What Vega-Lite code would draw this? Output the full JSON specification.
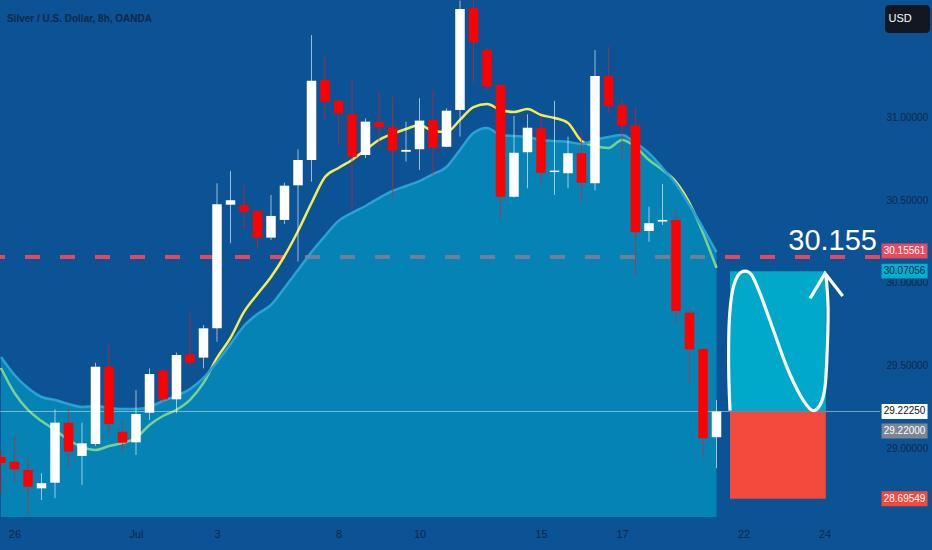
{
  "$schema": "https://vega.github.io/schema/vega-lite/v6.json",
  "description": "Silver / U.S. Dollar 8h candles with moving average, band and long-position box",
  "width": 880,
  "height": 517,
  "autosize": {"type": "none"},
  "padding": {"left": 0, "top": 0, "right": 52, "bottom": 33},
  "background": "#0b5395",
  "config": {
    "view": {"stroke": null},
    "font": "Liberation Sans",
    "style": {"guide-label": {"fill": "#10264a"}},
    "axis": {
      "labelColor": "#10264a",
      "labelOpacity": 1,
      "labelFont": "Liberation Sans",
      "grid": false,
      "ticks": false,
      "domain": false
    }
  },
  "datasets": {
    "candles": [
      {"i": 0, "o": 28.948, "h": 28.99, "l": 28.73, "c": 28.911, "ma": 29.485, "band": 29.552},
      {"i": 1, "o": 28.919, "h": 29.08, "l": 28.789, "c": 28.873, "ma": 29.334, "band": 29.443},
      {"i": 2, "o": 28.869, "h": 28.96, "l": 28.597, "c": 28.768, "ma": 29.232, "band": 29.364},
      {"i": 3, "o": 28.758, "h": 28.849, "l": 28.688, "c": 28.789, "ma": 29.165, "band": 29.31},
      {"i": 4, "o": 28.792, "h": 29.236, "l": 28.698, "c": 29.155, "ma": 29.111, "band": 29.292},
      {"i": 5, "o": 29.155, "h": 29.242, "l": 28.879, "c": 28.98, "ma": 29.05, "band": 29.268},
      {"i": 6, "o": 28.954, "h": 29.155, "l": 28.778, "c": 29.03, "ma": 29.008, "band": 29.25},
      {"i": 7, "o": 29.026, "h": 29.517, "l": 29.014, "c": 29.493, "ma": 28.99, "band": 29.256},
      {"i": 8, "o": 29.493, "h": 29.624, "l": 29.08, "c": 29.147, "ma": 29.014, "band": 29.244},
      {"i": 9, "o": 29.1, "h": 29.171, "l": 28.98, "c": 29.034, "ma": 29.032, "band": 29.238},
      {"i": 10, "o": 29.036, "h": 29.352, "l": 28.96, "c": 29.207, "ma": 29.062, "band": 29.238},
      {"i": 11, "o": 29.215, "h": 29.483, "l": 29.171, "c": 29.449, "ma": 29.141, "band": 29.25},
      {"i": 12, "o": 29.469, "h": 29.485, "l": 29.274, "c": 29.296, "ma": 29.195, "band": 29.286},
      {"i": 13, "o": 29.296, "h": 29.578, "l": 29.212, "c": 29.564, "ma": 29.232, "band": 29.316},
      {"i": 14, "o": 29.568, "h": 29.825, "l": 29.493, "c": 29.517, "ma": 29.292, "band": 29.358},
      {"i": 15, "o": 29.548, "h": 29.745, "l": 29.483, "c": 29.725, "ma": 29.395, "band": 29.425},
      {"i": 16, "o": 29.725, "h": 30.601, "l": 29.644, "c": 30.474, "ma": 29.546, "band": 29.522},
      {"i": 17, "o": 30.472, "h": 30.676, "l": 30.239, "c": 30.499, "ma": 29.667, "band": 29.63},
      {"i": 18, "o": 30.47, "h": 30.591, "l": 30.319, "c": 30.43, "ma": 29.824, "band": 29.739},
      {"i": 19, "o": 30.433, "h": 30.44, "l": 30.21, "c": 30.273, "ma": 29.932, "band": 29.812},
      {"i": 20, "o": 30.273, "h": 30.531, "l": 30.259, "c": 30.404, "ma": 30.035, "band": 29.866},
      {"i": 21, "o": 30.38, "h": 30.605, "l": 30.355, "c": 30.587, "ma": 30.162, "band": 29.969},
      {"i": 22, "o": 30.589, "h": 30.807, "l": 30.128, "c": 30.742, "ma": 30.313, "band": 30.077},
      {"i": 23, "o": 30.742, "h": 31.497, "l": 30.611, "c": 31.221, "ma": 30.482, "band": 30.186},
      {"i": 24, "o": 31.225, "h": 31.37, "l": 30.984, "c": 31.094, "ma": 30.639, "band": 30.283},
      {"i": 25, "o": 31.1, "h": 31.104, "l": 30.833, "c": 31.024, "ma": 30.694, "band": 30.374},
      {"i": 26, "o": 31.018, "h": 31.226, "l": 30.44, "c": 30.762, "ma": 30.742, "band": 30.422},
      {"i": 27, "o": 30.772, "h": 30.994, "l": 30.754, "c": 30.974, "ma": 30.803, "band": 30.464},
      {"i": 28, "o": 30.972, "h": 31.155, "l": 30.822, "c": 30.94, "ma": 30.863, "band": 30.512},
      {"i": 29, "o": 30.94, "h": 31.125, "l": 30.52, "c": 30.798, "ma": 30.899, "band": 30.555},
      {"i": 30, "o": 30.792, "h": 30.974, "l": 30.732, "c": 30.803, "ma": 30.929, "band": 30.585},
      {"i": 31, "o": 30.807, "h": 31.115, "l": 30.682, "c": 30.98, "ma": 30.954, "band": 30.615},
      {"i": 32, "o": 30.984, "h": 31.165, "l": 30.651, "c": 30.816, "ma": 30.917, "band": 30.657},
      {"i": 33, "o": 30.822, "h": 31.054, "l": 30.82, "c": 31.04, "ma": 30.911, "band": 30.7},
      {"i": 34, "o": 31.044, "h": 31.705, "l": 30.883, "c": 31.654, "ma": 30.984, "band": 30.803},
      {"i": 35, "o": 31.659, "h": 31.705, "l": 31.206, "c": 31.453, "ma": 31.062, "band": 30.905},
      {"i": 36, "o": 31.407, "h": 31.419, "l": 31.165, "c": 31.185, "ma": 31.08, "band": 30.935},
      {"i": 37, "o": 31.195, "h": 31.2, "l": 30.39, "c": 30.52, "ma": 31.044, "band": 30.893},
      {"i": 38, "o": 30.52, "h": 31.008, "l": 30.515, "c": 30.786, "ma": 31.032, "band": 30.887},
      {"i": 39, "o": 30.789, "h": 31.018, "l": 30.571, "c": 30.937, "ma": 31.05, "band": 30.881},
      {"i": 40, "o": 30.934, "h": 31.008, "l": 30.601, "c": 30.665, "ma": 31.014, "band": 30.863},
      {"i": 41, "o": 30.669, "h": 31.1, "l": 30.531, "c": 30.678, "ma": 30.996, "band": 30.857},
      {"i": 42, "o": 30.662, "h": 30.883, "l": 30.571, "c": 30.783, "ma": 30.966, "band": 30.851},
      {"i": 43, "o": 30.783, "h": 30.913, "l": 30.49, "c": 30.605, "ma": 30.857, "band": 30.839},
      {"i": 44, "o": 30.601, "h": 31.407, "l": 30.557, "c": 31.25, "ma": 30.827, "band": 30.863},
      {"i": 45, "o": 31.25, "h": 31.427, "l": 31.024, "c": 31.068, "ma": 30.815, "band": 30.881},
      {"i": 46, "o": 31.073, "h": 31.115, "l": 30.742, "c": 30.949, "ma": 30.863, "band": 30.893},
      {"i": 47, "o": 30.952, "h": 31.061, "l": 30.047, "c": 30.305, "ma": 30.821, "band": 30.845},
      {"i": 48, "o": 30.313, "h": 30.46, "l": 30.248, "c": 30.36, "ma": 30.742, "band": 30.784},
      {"i": 49, "o": 30.37, "h": 30.597, "l": 30.349, "c": 30.38, "ma": 30.682, "band": 30.694},
      {"i": 50, "o": 30.38, "h": 30.44, "l": 29.755, "c": 29.83, "ma": 30.609, "band": 30.597},
      {"i": 51, "o": 29.819, "h": 29.846, "l": 29.393, "c": 29.598, "ma": 30.482, "band": 30.47},
      {"i": 52, "o": 29.6, "h": 29.605, "l": 28.949, "c": 29.061, "ma": 30.301, "band": 30.331},
      {"i": 53, "o": 29.067, "h": 29.292, "l": 28.879, "c": 29.2225, "ma": 30.09, "band": 30.186}
    ],
    "wave": [
      {"k": 0, "i": 54.0, "p": 29.228},
      {"k": 1, "i": 53.9, "p": 29.493},
      {"k": 2, "i": 53.95, "p": 29.775},
      {"k": 3, "i": 54.2, "p": 29.957},
      {"k": 4, "i": 54.61, "p": 30.047},
      {"k": 5, "i": 55.11, "p": 30.071},
      {"k": 6, "i": 55.61, "p": 30.047},
      {"k": 7, "i": 56.22, "p": 29.937},
      {"k": 8, "i": 57.21, "p": 29.715},
      {"k": 9, "i": 58.2, "p": 29.493},
      {"k": 10, "i": 59.19, "p": 29.322},
      {"k": 11, "i": 60.05, "p": 29.231},
      {"k": 12, "i": 60.67, "p": 29.262},
      {"k": 13, "i": 61.04, "p": 29.372},
      {"k": 14, "i": 61.21, "p": 29.614},
      {"k": 15, "i": 61.26, "p": 29.856},
      {"k": 16, "i": 61.11, "p": 30.047}
    ],
    "arrow": [
      {"k": 0, "i": 59.93, "p": 29.906},
      {"k": 1, "i": 61.04, "p": 30.057},
      {"k": 2, "i": 62.35, "p": 29.92}
    ],
    "zones": [
      {"zone": "target", "i": 54, "i2": 61.1, "top": 30.07056, "bottom": 29.2225},
      {"zone": "stop", "i": 54, "i2": 61.1, "top": 29.2225, "bottom": 28.69549}
    ]
  },
  "layer": [
    {
      "data": {"values": [{"p": 30.15561}]},
      "mark": {"type": "rule", "color": "#e5485c", "strokeWidth": 4, "strokeDash": [15, 20]},
      "encoding": {"y": {"field": "p", "type": "quantitative"}}
    },
    {
      "data": {"name": "candles"},
      "mark": {"type": "line", "color": "#f4ec50", "strokeWidth": 2.5, "interpolate": "monotone"},
      "encoding": {
        "x": {"field": "i", "type": "quantitative"},
        "y": {"field": "ma", "type": "quantitative"}
      }
    },
    {
      "data": {"name": "candles"},
      "mark": {"type": "area", "color": "#00b3d5", "fillOpacity": 0.5, "interpolate": "monotone"},
      "encoding": {
        "x": {"field": "i", "type": "quantitative"},
        "y": {"field": "band", "type": "quantitative"},
        "y2": {"datum": 28.5849}
      }
    },
    {
      "data": {"name": "candles"},
      "mark": {"type": "line", "color": "#2aa2d4", "strokeWidth": 2.5, "interpolate": "monotone"},
      "encoding": {
        "x": {"field": "i", "type": "quantitative"},
        "y": {"field": "band", "type": "quantitative"}
      }
    },
    {
      "data": {"values": [{"p": 29.2225}]},
      "mark": {"type": "rule", "color": "#ffffff", "strokeWidth": 1, "opacity": 0.45},
      "encoding": {"y": {"field": "p", "type": "quantitative"}}
    },
    {
      "data": {"name": "zones"},
      "mark": {"type": "rect"},
      "encoding": {
        "x": {"field": "i", "type": "quantitative"},
        "x2": {"field": "i2"},
        "y": {"field": "top", "type": "quantitative"},
        "y2": {"field": "bottom"},
        "color": {
          "field": "zone",
          "type": "nominal",
          "scale": {"domain": ["target", "stop"], "range": ["#00a9ca", "#f24a3c"]},
          "legend": null
        }
      }
    },
    {
      "data": {"name": "wave"},
      "mark": {"type": "line", "color": "#ffffff", "strokeWidth": 3.2, "interpolate": "cardinal"},
      "encoding": {
        "x": {"field": "i", "type": "quantitative"},
        "y": {"field": "p", "type": "quantitative"},
        "order": {"field": "k"}
      }
    },
    {
      "data": {"name": "arrow"},
      "mark": {"type": "line", "color": "#ffffff", "strokeWidth": 3.2},
      "encoding": {
        "x": {"field": "i", "type": "quantitative"},
        "y": {"field": "p", "type": "quantitative"},
        "order": {"field": "k"}
      }
    },
    {
      "data": {"name": "candles"},
      "mark": {"type": "rule", "strokeWidth": 1, "opacity": 0.6},
      "encoding": {
        "x": {"field": "i", "type": "quantitative"},
        "y": {"field": "h", "type": "quantitative"},
        "y2": {"field": "l"},
        "color": {"condition": {"test": "datum.c >= datum.o", "value": "#ffffff"}, "value": "#ff1010"}
      }
    },
    {
      "data": {"name": "candles"},
      "mark": {"type": "bar", "width": 9.5},
      "encoding": {
        "x": {
          "field": "i",
          "type": "quantitative",
          "scale": {"domain": [-0.074, 65.111], "nice": false, "zero": false, "padding": 0},
          "axis": {
            "values": [1, 10, 16, 25, 31, 40, 46, 55, 61],
            "labelExpr": "datum.value == 1 ? '26' : datum.value == 10 ? 'Jul' : datum.value == 16 ? '3' : datum.value == 25 ? '8' : datum.value == 31 ? '10' : datum.value == 40 ? '15' : datum.value == 46 ? '17' : datum.value == 55 ? '22' : '24'",
            "title": null,
            "labelPadding": 11,
            "labelFontSize": 11,
            "labelColor": "#10264a",
            "labelFlush": false,
            "encode": {"labels": {"update": {"fill": {"value": "#10264a"}}}}
          }
        },
        "y": {
          "field": "o",
          "type": "quantitative",
          "scale": {"domain": [28.5849, 31.7088], "nice": false, "zero": false, "padding": 0},
          "axis": {
            "orient": "right",
            "values": [29, 29.5, 30, 30.5, 31],
            "format": ".5f",
            "title": null,
            "labelAlign": "left",
            "labelPadding": 6,
            "labelFontSize": 10,
            "labelColor": "#10264a",
            "zindex": 0,
            "encode": {"labels": {"update": {"fill": {"value": "#10264a"}}}}
          }
        },
        "y2": {"field": "c"},
        "color": {"condition": {"test": "datum.c >= datum.o", "value": "#ffffff"}, "value": "#ff0000"}
      }
    },
    {
      "data": {"values": [{"label": "30.15561", "p": 30.15561}]},
      "layer": [
        {
          "mark": {"type": "point", "shape": "M-1,-0.326H1V0.326H-1Z", "size": 2116, "filled": true, "opacity": 1, "color": "#ea4a5c", "strokeWidth": 0, "yOffset": -6},
          "encoding": {"x": {"datum": 66.93, "type": "quantitative"}, "y": {"field": "p", "type": "quantitative"}}
        },
        {
          "mark": {"type": "text", "color": "#ffffff", "fontSize": 10, "dy": -6},
          "encoding": {"x": {"datum": 66.93, "type": "quantitative"}, "y": {"field": "p", "type": "quantitative"}, "text": {"field": "label"}}
        }
      ]
    },
    {
      "data": {"values": [{"label": "30.07056", "p": 30.07056}]},
      "layer": [
        {
          "mark": {"type": "point", "shape": "M-1,-0.326H1V0.326H-1Z", "size": 2116, "filled": true, "opacity": 1, "color": "#00b0cf", "strokeWidth": 0},
          "encoding": {"x": {"datum": 66.93, "type": "quantitative"}, "y": {"field": "p", "type": "quantitative"}}
        },
        {
          "mark": {"type": "text", "color": "#10243f", "fontSize": 10},
          "encoding": {"x": {"datum": 66.93, "type": "quantitative"}, "y": {"field": "p", "type": "quantitative"}, "text": {"field": "label"}}
        }
      ]
    },
    {
      "data": {"values": [{"label": "29.22250", "p": 29.2225}]},
      "layer": [
        {
          "mark": {"type": "point", "shape": "M-1,-0.326H1V0.326H-1Z", "size": 2116, "filled": true, "opacity": 1, "color": "#ffffff", "strokeWidth": 0},
          "encoding": {"x": {"datum": 66.93, "type": "quantitative"}, "y": {"field": "p", "type": "quantitative"}}
        },
        {
          "mark": {"type": "text", "color": "#111111", "fontSize": 10},
          "encoding": {"x": {"datum": 66.93, "type": "quantitative"}, "y": {"field": "p", "type": "quantitative"}, "text": {"field": "label"}}
        }
      ]
    },
    {
      "data": {"values": [{"label": "29.22000", "p": 29.22}]},
      "layer": [
        {
          "mark": {"type": "point", "shape": "M-1,-0.326H1V0.326H-1Z", "size": 2116, "filled": true, "opacity": 1, "color": "#7c8593", "strokeWidth": 0, "yOffset": 19},
          "encoding": {"x": {"datum": 66.93, "type": "quantitative"}, "y": {"field": "p", "type": "quantitative"}}
        },
        {
          "mark": {"type": "text", "color": "#ffffff", "fontSize": 10, "dy": 19},
          "encoding": {"x": {"datum": 66.93, "type": "quantitative"}, "y": {"field": "p", "type": "quantitative"}, "text": {"field": "label"}}
        }
      ]
    },
    {
      "data": {"values": [{"label": "28.69549", "p": 28.69549}]},
      "layer": [
        {
          "mark": {"type": "point", "shape": "M-1,-0.326H1V0.326H-1Z", "size": 2116, "filled": true, "opacity": 1, "color": "#f24a3c", "strokeWidth": 0},
          "encoding": {"x": {"datum": 66.93, "type": "quantitative"}, "y": {"field": "p", "type": "quantitative"}}
        },
        {
          "mark": {"type": "text", "color": "#ffffff", "fontSize": 10},
          "encoding": {"x": {"datum": 66.93, "type": "quantitative"}, "y": {"field": "p", "type": "quantitative"}, "text": {"field": "label"}}
        }
      ]
    },
    {
      "data": {"values": [{"label": "30.155", "p": 30.155}]},
      "mark": {"type": "text", "color": "#ffffff", "fontSize": 29, "baseline": "alphabetic", "dy": -7},
      "encoding": {"x": {"datum": 61.6, "type": "quantitative"}, "y": {"field": "p", "type": "quantitative"}, "text": {"field": "label"}}
    },
    {
      "data": {"values": [{"label": "Silver / U.S. Dollar, 8h, OANDA", "p": 31.594}]},
      "mark": {"type": "text", "color": "#10284a", "fontSize": 10, "fontWeight": "bold", "align": "left", "baseline": "middle"},
      "encoding": {"x": {"datum": 0.44, "type": "quantitative"}, "y": {"field": "p", "type": "quantitative"}, "text": {"field": "label"}}
    },
    {
      "data": {"values": [{"label": "USD", "p": 31.594}]},
      "layer": [
        {
          "mark": {"type": "point", "shape": "M-0.82,-0.62H0.82A0.18,0.18 0 0 1 1,-0.44V0.44A0.18,0.18 0 0 1 0.82,0.62H-0.82A0.18,0.18 0 0 1 -1,0.44V-0.44A0.18,0.18 0 0 1 -0.82,-0.62Z", "size": 2025, "filled": true, "opacity": 1, "color": "#131722", "strokeWidth": 0},
          "encoding": {"x": {"datum": 67.15, "type": "quantitative"}, "y": {"field": "p", "type": "quantitative"}}
        },
        {
          "mark": {"type": "text", "color": "#ffffff", "fontSize": 11},
          "encoding": {"x": {"datum": 66.6, "type": "quantitative"}, "y": {"field": "p", "type": "quantitative"}, "text": {"field": "label"}}
        }
      ]
    }
  ]
}
